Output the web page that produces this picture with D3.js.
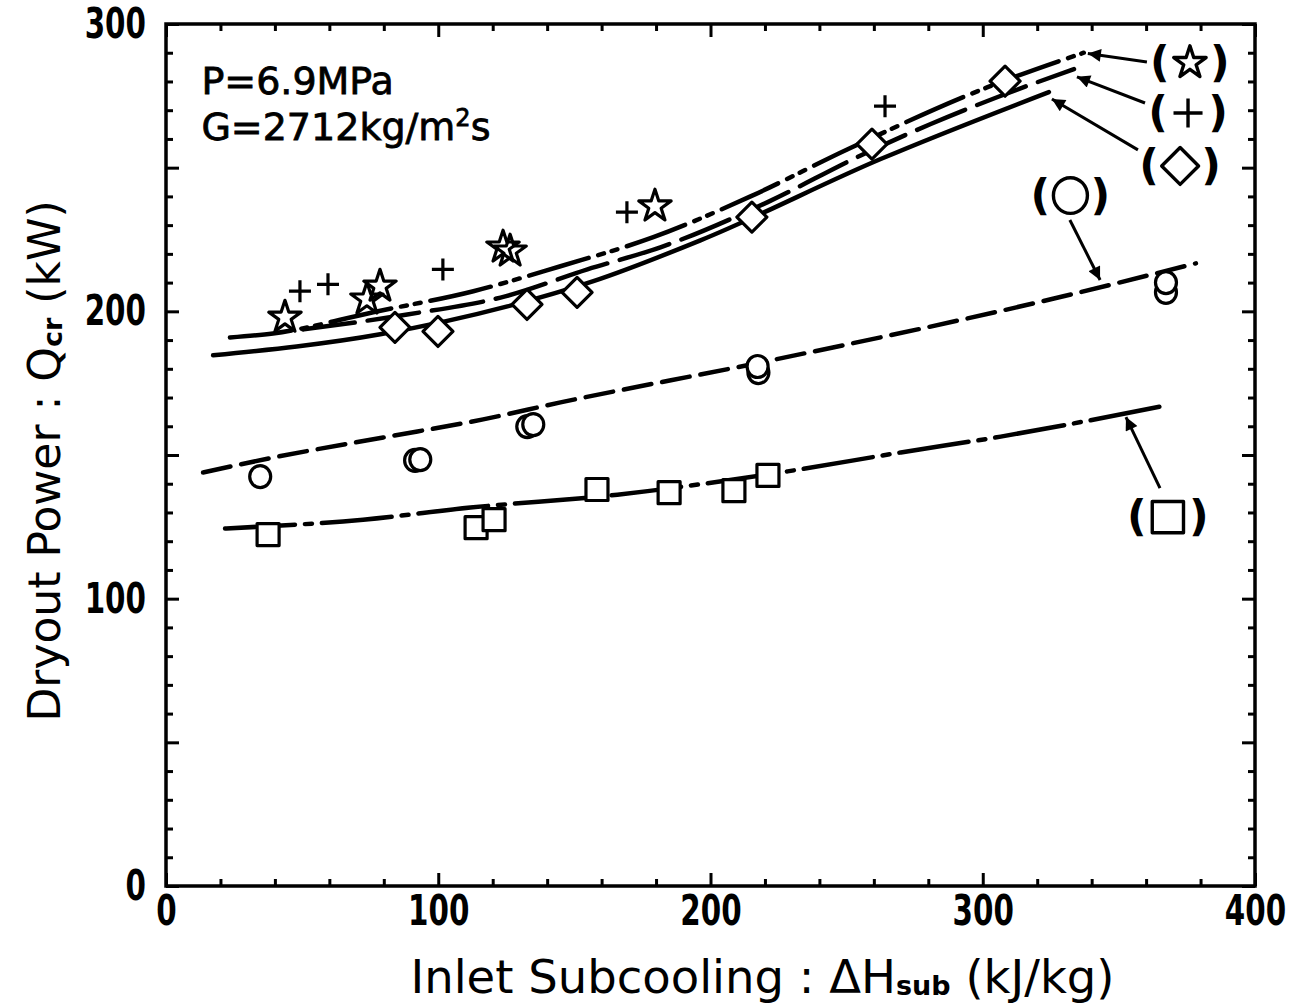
<!DOCTYPE html>
<html><head><meta charset="utf-8">
<script src="https://cdn.jsdelivr.net/npm/d3@7"></script>
<style>body{margin:0;background:#fff}svg{display:block}</style>
</head><body>
<svg id="c" width="1301" height="1007"></svg>
<script>
// ---------- data ----------
const xMajorTicks = [0, 100, 200, 300, 400];
const yMajorTicks = [0, 100, 200, 300];
const xMinorTicks = d3.range(0, 401, 20);
const yMinorTicks = d3.range(0, 301, 10);

// measured points
const starPts = [[43.7,197.9],[73.8,204.2],[78.6,208.7],[123.8,222.3],[126.4,220.9],[179.6,236.6]];
const plusPts = [[49.2,207],[59.5,209.4],[101.7,214.6],[169.3,234.5],[264.1,271.4]];
const diamondPts = [[84.1,194.4],[99.9,193],[132.6,202.4],[151,206.6],[215.2,232.8],[259.3,258.2],[308.2,280.1]];
const circlePts = [[34.6,142.5],[91.5,148.1],[93.4,148.4],[132.7,159.9],[134.9,160.6],[217.6,178.7],[217.3,180.8],[367.3,206.6],[367.3,210]];
const squarePts = [[37.5,122.3],[113.9,124.7],[120.5,127.5],[158.3,138],[184.8,136.9],[208.6,137.6],[221.1,142.9]];

// calculated curves
const lineStar = [[23.5,190.9],[39.3,192.3],[76.1,199.7],[112.9,207],[144.9,215.7],[179,225.8],[214.7,240],[250.4,256.4],[301.8,278],[337.1,290]];
const linePlus = [[50.4,193.7],[88.6,198.9],[124.6,205.2],[154.8,214.6],[181.6,222.3],[221,238],[254,253.7],[280.9,265.2],[305.5,274.6],[333.5,284.3]];
const lineDiamond = [[17.3,184.7],[78.7,192],[125.4,201.7],[157,210.5],[196.3,224.7],[262.5,253],[324.3,276.3]];
const lineCircle = [[13.6,143.9],[39.3,149.1],[79.8,156.1],[116.5,162.4],[144.9,168.3],[218.4,182.2],[325,204.2],[378.3,216.7]];
const lineSquare = [[21.7,124.4],[72.4,127.5],[111.8,131.7],[165.8,136.2],[228.3,144.3],[269.9,150.9],[306.6,156.4],[365.4,166.9]];

// legend labels (symbol, label centre in data units, arrow from -> to in data units)
const legendKeys = ["star","plus","diamond","circle","square"];
const legendPos = [[376.1,286.5],[375.4,269],[372.5,250.6],[332.2,240.3],[368,128.4]];
const arrowFrom = [[360.3,286.8],[359.6,272.5],[357.0,256.2],[332.0,231.8],[365.1,138.5]];
const arrowTo = [[338.6,289.7],[334.6,281.6],[325.4,273.9],[343.1,210.9],[352.6,163.2]];

const xTitle = "Inlet Subcooling : ΔH";
const yTitle = "Dryout Power : Q";

// ---------- drawing ----------
const svg = d3.select("#c");
svg.append("rect").attr("width",1301).attr("height",1007).attr("fill","#fff");
const x = d3.scaleLinear().domain([0,400]).range([166,1255]);
const y = d3.scaleLinear().domain([0,300]).range([886,24]);

const tickFont = "'DejaVu Sans',sans-serif";
const squeeze = 0.7;

function styleAxis(g){
  g.select(".domain").remove();
  g.selectAll(".tick line").attr("stroke","#000").attr("stroke-width",3);
  g.selectAll(".tick text").attr("fill","#000").attr("font-family",tickFont)
    .attr("font-weight","bold").attr("font-size",42);
}
// bottom
svg.append("g").attr("transform",`translate(0,${y(0)})`)
  .call(d3.axisBottom(x).tickValues(xMinorTicks.filter(v=>v%100)).tickSize(-7).tickFormat(""))
  .call(styleAxis);
svg.append("g").attr("transform",`translate(0,${y(0)})`)
  .call(d3.axisBottom(x).tickValues(xMajorTicks).tickSize(-13).tickPadding(9).tickFormat(d3.format("d")))
  .call(styleAxis)
  .call(g=>g.selectAll(".tick text").attr("transform",`scale(${squeeze},1)`));
// top
svg.append("g").attr("transform",`translate(0,${y(300)})`)
  .call(d3.axisTop(x).tickValues(xMinorTicks.filter(v=>v%100)).tickSize(-7).tickFormat(""))
  .call(styleAxis);
svg.append("g").attr("transform",`translate(0,${y(300)})`)
  .call(d3.axisTop(x).tickValues(xMajorTicks).tickSize(-13).tickFormat(""))
  .call(styleAxis);
// left
svg.append("g").attr("transform",`translate(${x(0)},0)`)
  .call(d3.axisLeft(y).tickValues(yMinorTicks.filter(v=>v%50)).tickSize(-7).tickFormat(""))
  .call(styleAxis);
svg.append("g").attr("transform",`translate(${x(0)},0)`)
  .call(d3.axisLeft(y).tickValues(d3.range(0,301,50)).tickSize(-13).tickFormat(""))
  .call(styleAxis);
svg.append("g").attr("transform",`translate(${x(0)},0)`)
  .call(d3.axisLeft(y).tickValues(yMajorTicks).tickSize(0).tickPadding(19).tickFormat(d3.format("d")))
  .call(styleAxis)
  .call(g=>g.selectAll(".tick text").attr("x",-20/squeeze).attr("transform",`scale(${squeeze},1)`));
// right
svg.append("g").attr("transform",`translate(${x(400)},0)`)
  .call(d3.axisRight(y).tickValues(yMinorTicks.filter(v=>v%50)).tickSize(-7).tickFormat(""))
  .call(styleAxis);
svg.append("g").attr("transform",`translate(${x(400)},0)`)
  .call(d3.axisRight(y).tickValues(d3.range(0,301,50)).tickSize(-13).tickFormat(""))
  .call(styleAxis);

// frame
svg.append("rect").attr("x",x(0)).attr("y",y(300)).attr("width",x(400)-x(0)).attr("height",y(0)-y(300))
  .attr("fill","none").attr("stroke","#000").attr("stroke-width",3.5);

// curves
const line = d3.line().x(d=>x(d[0])).y(d=>y(d[1])).curve(d3.curveMonotoneX);
const curves = [
  {d: lineStar, dash: "62,10,6,8,6,10"},
  {d: linePlus, dash: "52,13"},
  {d: lineDiamond, dash: null},
  {d: lineCircle, dash: "28,11"},
  {d: lineSquare, dash: "70,10,7,10"}
];
curves.forEach(c=>{
  svg.append("path").attr("d",line(c.d)).attr("fill","none").attr("stroke","#000")
    .attr("stroke-width",4.5).attr("stroke-linecap","round")
    .attr("stroke-dasharray",c.dash);
});

// marker shapes
function shapePath(kind, s){
  const p = d3.path();
  if(kind==="star"){
    return d3.symbol(d3.symbolStar, 325*s*s)();
  } else if(kind==="diamond"){
    const r=15*s; p.moveTo(0,-r); p.lineTo(r,0); p.lineTo(0,r); p.lineTo(-r,0); p.closePath();
  } else if(kind==="square"){
    const r=11*s; p.rect(-r,-r,2*r,2*r);
  } else if(kind==="plus"){
    const r=11*s; p.moveTo(-r,0); p.lineTo(r,0); p.moveTo(0,-r); p.lineTo(0,r);
  } else if(kind==="circle"){
    const rx=10.5*s, ry=11*s;
    return `M${-rx},0A${rx},${ry} 0 1,0 ${rx},0A${rx},${ry} 0 1,0 ${-rx},0Z`;
  }
  return p.toString();
}
function drawMarkers(pts, kind){
  svg.append("g").selectAll("path").data(pts).join("path")
    .attr("transform",d=>`translate(${x(d[0])},${y(d[1])})`)
    .attr("d",shapePath(kind,1))
    .attr("fill", (kind==="star"||kind==="plus") ? "none" : "#fff")
    .attr("stroke","#000").attr("stroke-width",3.2).attr("stroke-linejoin","round");
}
drawMarkers(squarePts,"square");
drawMarkers(circlePts,"circle");
drawMarkers(diamondPts,"diamond");
drawMarkers(plusPts,"plus");
drawMarkers(starPts,"star");

// arrows
svg.append("defs").append("marker").attr("id","ah").attr("viewBox","0 0 10 10")
  .attr("refX",10).attr("refY",5).attr("markerWidth",24).attr("markerHeight",13)
  .attr("markerUnits","userSpaceOnUse").attr("orient","auto")
  .append("path").attr("d","M0,0L10,5L0,10Z").attr("fill","#000");
legendKeys.forEach((k,i)=>{
  svg.append("line").attr("x1",x(arrowFrom[i][0])).attr("y1",y(arrowFrom[i][1]))
    .attr("x2",x(arrowTo[i][0])).attr("y2",y(arrowTo[i][1]))
    .attr("stroke","#000").attr("stroke-width",3).attr("marker-end","url(#ah)");
});

// legend labels
const legendScale = {star:1.0, plus:1.32, diamond:1.23, circle:1.62, square:1.42};
const parenGap = {star:30, plus:30, diamond:31, circle:30, square:31};
legendKeys.forEach((k,i)=>{
  const cx = x(legendPos[i][0]), cy = y(legendPos[i][1]);
  const g = svg.append("g").attr("transform",`translate(${cx},${cy})`);
  g.append("path").attr("d",shapePath(k,legendScale[k])).attr("fill","none")
    .attr("stroke","#000").attr("stroke-width",3.4).attr("stroke-linejoin","round");
  [["(",-parenGap[k]],[")",parenGap[k]]].forEach(([t,dx])=>{
    g.append("text").attr("x",dx).attr("y",14).attr("text-anchor","middle")
      .attr("font-family","'DejaVu Sans',sans-serif").attr("font-weight","bold")
      .attr("font-size",43).text(t);
  });
});

// condition text
const condFont = "'DejaVu Sans',sans-serif";
svg.append("text").attr("x",x(13)).attr("y",y(275.6)).attr("font-family",condFont).attr("font-size",38)
  .attr("stroke","#000").attr("stroke-width",0.8).text("P=6.9MPa");
const gt = svg.append("text").attr("x",x(13)).attr("y",y(259.6)).attr("font-family",condFont).attr("font-size",38)
  .attr("stroke","#000").attr("stroke-width",0.8);
gt.append("tspan").text("G=2712kg/m");
gt.append("tspan").attr("font-size",24).attr("dy",-14).text("2");
gt.append("tspan").attr("dy",14).text("s");

// axis titles
const xt = svg.append("text").attr("x",(x(0)+x(400))/2+52).attr("y",993).attr("text-anchor","middle")
  .attr("font-family",condFont).attr("font-size",46.5);
xt.append("tspan").text(xTitle);
xt.append("tspan").attr("font-size",27).attr("font-weight","bold").attr("dy",2).text("sub");
xt.append("tspan").attr("dy",-2).text(" (kJ/kg)");

const yt = svg.append("text").attr("transform",`translate(60,${(y(0)+y(300))/2+6}) rotate(-90)`)
  .attr("text-anchor","middle").attr("font-family",condFont).attr("font-size",44);
yt.append("tspan").text(yTitle);
yt.append("tspan").attr("font-size",27).attr("font-weight","bold").attr("dy",2).text("cr");
yt.append("tspan").attr("dy",-2).text("  (kW)");
</script>
</body></html>
